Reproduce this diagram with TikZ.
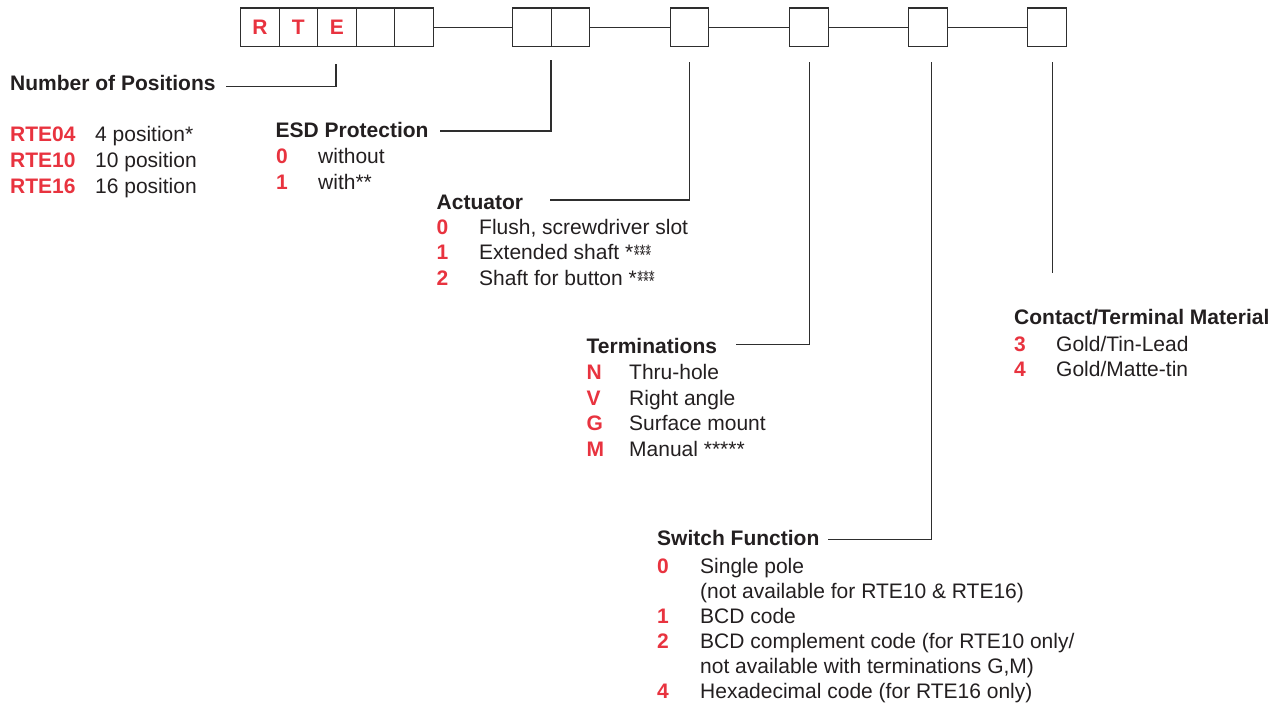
\documentclass[tikz,border=0pt]{standalone}
\usepackage{fontspec}
\setmainfont{Liberation Sans}
\definecolor{codered}{HTML}{E8333F}
\definecolor{ink}{HTML}{231F20}
\definecolor{linegray}{HTML}{2E2E2E}
\tikzset{
  cell/.style={draw=linegray, line width=1.3pt, minimum width=38.5pt, minimum height=38.5pt, inner sep=0pt, anchor=north west, font=\fontsize{21}{26}\selectfont\bfseries, text=codered},
  link/.style={draw=linegray, line width=1.1pt},
  leader/.style={draw=linegray, line width=1.1pt},
  head/.style={anchor=base west, inner sep=0pt, font=\fontsize{21}{26}\selectfont\bfseries, text=ink},
  code/.style={anchor=base west, inner sep=0pt, font=\fontsize{21}{26}\selectfont\bfseries, text=codered},
  desc/.style={anchor=base west, inner sep=0pt, font=\fontsize{21}{26}\selectfont, text=ink}
}
\newcommand{\fourstar}{*\kern0.5pt{\fontsize{15}{15}\selectfont\ooalign{\raisebox{4pt}{***}\cr\raisebox{-1pt}{***}\cr}}}
\begin{document}
\begin{tikzpicture}[x=1pt,y=-1pt]
\useasboundingbox (0,0) rectangle (1286,708);
% top boxes
\node[cell] (b1) at (240,7.5) {R};
\node[cell] (b2) at (278.5,7.5) {T};
\node[cell] (b3) at (317,7.5) {E};
\node[cell] (b4) at (355.5,7.5) {};
\node[cell] (b5) at (394,7.5) {};
\node[cell] (b6) at (512,7.5) {};
\node[cell] (b7) at (550.5,7.5) {};
\node[cell] (b8) at (669.5,7.5) {};
\node[cell] (b9) at (789,7.5) {};
\node[cell] (b10) at (908,7.5) {};
\node[cell] (b11) at (1027,7.5) {};
\draw[link] (b5.east) -- (b6.west);
\draw[link] (b7.east) -- (b8.west);
\draw[link] (b8.east) -- (b9.west);
\draw[link] (b9.east) -- (b10.west);
\draw[link] (b10.east) -- (b11.west);

% Number of positions
\node[head] (npos) at (10,91) {Number of Positions};
\node[code] (c04) at (10,142) {RTE04};
\node[desc] (d04) at (95,142) {4 position*};
\node[code] (c10) at (10,168) {RTE10};
\node[desc] (d10) at (95,168) {10 position};
\node[code] (c16) at (10,194) {RTE16};
\node[desc] (d16) at (95,194) {16 position};
\coordinate (nposA) at (226,86.7);
\coordinate (nposB) at (336,64);
\draw[leader] (nposA) -| (nposB);

% ESD
\node[head] (esd) at (275.5,138) {ESD Protection};
\node[code] (e0) at (276,164) {0};
\node[desc] (e0d) at (318,164) {without};
\node[code] (e1) at (276,190) {1};
\node[desc] (e1d) at (318,190) {with**};
\coordinate (esdA) at (440,131);
\coordinate (esdB) at (551,60);
\draw[leader] (esdA) -| (esdB);

% Actuator
\node[head] (act) at (436.5,209.5) {Actuator};
\node[code] (a0) at (436.5,235) {0};
\node[desc] (a0d) at (479,235) {Flush, screwdriver slot};
\node[code] (a1) at (436.5,260) {1};
\node[desc] (a1d) at (479,260) {Extended shaft \fourstar};
\node[code] (a2) at (436.5,286) {2};
\node[desc] (a2d) at (479,286) {Shaft for button \fourstar};
\coordinate (actA) at (550,200);
\coordinate (actB) at (689.3,62);
\draw[leader] (actA) -| (actB);

% Terminations
\node[head] (term) at (586.5,353.5) {Terminations};
\node[code] (tN) at (586.5,380) {N};
\node[desc] (tNd) at (629,380) {Thru-hole};
\node[code] (tV) at (586.5,405.5) {V};
\node[desc] (tVd) at (629,405.5) {Right angle};
\node[code] (tG) at (586.5,431) {G};
\node[desc] (tGd) at (629,431) {Surface mount};
\node[code] (tM) at (586.5,457) {M};
\node[desc] (tMd) at (629,457) {Manual *****};
\coordinate (termA) at (736,344.5);
\coordinate (termB) at (809.5,62);
\draw[leader] (termA) -| (termB);

% Switch function
\node[head] (sw) at (657,546) {Switch Function};
\node[code] (s0) at (657,573) {0};
\node[desc] (s0d) at (700,573) {Single pole};
\node[desc] (s0e) at (700,598.5) {(not available for RTE10 \& RTE16)};
\node[code] (s1) at (657,623.5) {1};
\node[desc] (s1d) at (700,623.5) {BCD code};
\node[code] (s2) at (657,648.5) {2};
\node[desc] (s2d) at (700,648.5) {BCD complement code (for RTE10 only/};
\node[desc] (s2e) at (700,673.5) {not available with terminations G,M)};
\node[code] (s4) at (657,698.5) {4};
\node[desc] (s4d) at (700,698.5) {Hexadecimal code (for RTE16 only)};
\coordinate (swA) at (828,539.5);
\coordinate (swB) at (931.5,62);
\draw[leader] (swA) -| (swB);

% Contact/terminal material
\node[head] (ctm) at (1014,324.5) {Contact/Terminal Material};
\node[code] (m3) at (1014,351.5) {3};
\node[desc] (m3d) at (1056,351.5) {Gold/Tin-Lead};
\node[code] (m4) at (1014,376.5) {4};
\node[desc] (m4d) at (1056,376.5) {Gold/Matte-tin};
\coordinate (ctmA) at (1052.5,273);
\coordinate (ctmB) at (1052.5,62);
\draw[leader] (ctmA) -- (ctmB);
\end{tikzpicture}
\end{document}
